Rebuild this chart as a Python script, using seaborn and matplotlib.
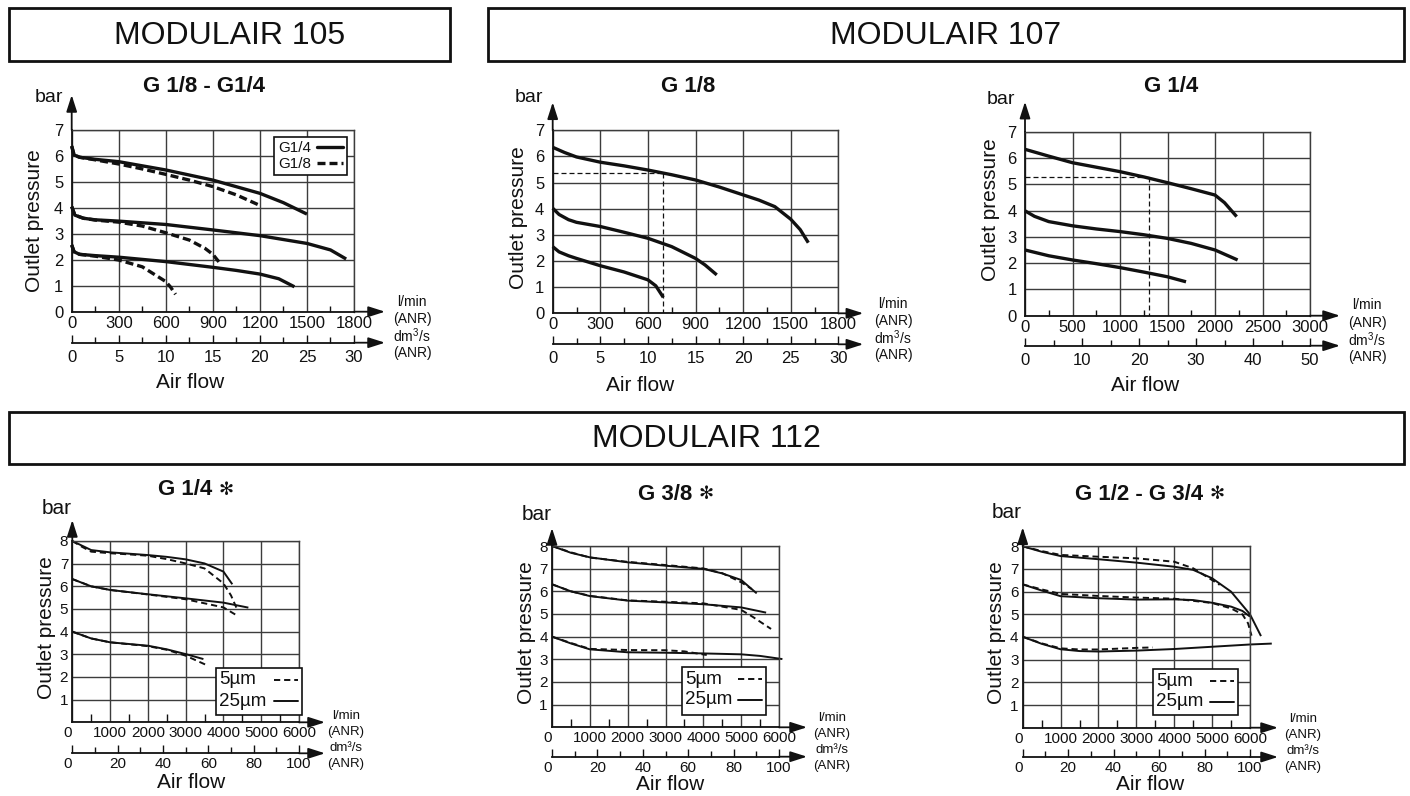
import matplotlib.pyplot as plt
from matplotlib.lines import Line2D
from matplotlib.patches import Rectangle
import numpy as np
import pandas as pd
import seaborn as sns

sns.set_theme(style="white")
plt.rcParams['font.family'] = ['Liberation Sans', 'DejaVu Sans']
plt.rcParams['mathtext.fontset'] = 'custom'
plt.rcParams['mathtext.rm'] = 'Liberation Sans'

# ---- data: flow in l/min, outlet pressure in bar ----
# MODULAIR 105, G 1/8 - G1/4
m105_g14_hi_x = [0, 15, 50, 150, 300, 600, 900, 1200, 1350, 1500]
m105_g14_hi_y = [6.38, 6.04, 5.95, 5.87, 5.78, 5.46, 5.07, 4.56, 4.2, 3.76]
m105_g18_hi_x = [0, 15, 50, 150, 300, 450, 600, 750, 900, 1050, 1205]
m105_g18_hi_y = [6.38, 6.04, 5.95, 5.85, 5.69, 5.5, 5.29, 5.07, 4.82, 4.5, 4.08]
m105_g14_mid_x = [0, 20, 75, 150, 300, 600, 900, 1200, 1500, 1650, 1750]
m105_g14_mid_y = [4.05, 3.72, 3.6, 3.54, 3.49, 3.36, 3.15, 2.93, 2.63, 2.38, 2.03]
m105_g18_mid_x = [0, 20, 75, 150, 300, 450, 600, 750, 850, 900, 949]
m105_g18_mid_y = [4.05, 3.72, 3.6, 3.53, 3.45, 3.3, 3.04, 2.76, 2.44, 2.21, 1.84]
m105_g14_lo_x = [0, 15, 50, 150, 300, 600, 900, 1050, 1200, 1320, 1420]
m105_g14_lo_y = [2.57, 2.31, 2.21, 2.16, 2.1, 1.93, 1.71, 1.59, 1.45, 1.27, 0.96]
m105_g18_lo_x = [0, 15, 50, 150, 300, 450, 600, 630, 662]
m105_g18_lo_y = [2.57, 2.31, 2.21, 2.14, 1.99, 1.73, 1.16, 0.95, 0.67]

# MODULAIR 107, G 1/8
m107a_hi_x = [0, 75, 150, 300, 450, 600, 750, 900, 1050, 1200, 1300, 1400, 1500, 1560, 1611]
m107a_hi_y = [6.35, 6.15, 5.98, 5.78, 5.64, 5.48, 5.3, 5.1, 4.83, 4.53, 4.33, 4.08, 3.6, 3.2, 2.7]
m107a_mid_x = [0, 40, 100, 150, 300, 450, 600, 750, 900, 960, 1034]
m107a_mid_y = [4.02, 3.78, 3.58, 3.48, 3.32, 3.1, 2.87, 2.55, 2.1, 1.85, 1.47]
m107a_lo_x = [0, 40, 100, 150, 300, 450, 600, 650, 697]
m107a_lo_y = [2.55, 2.35, 2.2, 2.1, 1.82, 1.58, 1.28, 1.05, 0.61]
m107a_ref = (697, 5.35)

# MODULAIR 107, G 1/4
m107b_hi_x = [0, 250, 500, 750, 1000, 1250, 1500, 1750, 2000, 2100, 2228]
m107b_hi_y = [6.33, 6.07, 5.82, 5.65, 5.48, 5.28, 5.06, 4.83, 4.59, 4.3, 3.77]
m107b_mid_x = [0, 100, 250, 500, 750, 1000, 1250, 1500, 1750, 2000, 2238]
m107b_mid_y = [3.99, 3.78, 3.58, 3.42, 3.3, 3.2, 3.08, 2.94, 2.75, 2.5, 2.12]
m107b_lo_x = [0, 250, 500, 750, 1000, 1250, 1500, 1695]
m107b_lo_y = [2.5, 2.28, 2.12, 1.98, 1.83, 1.66, 1.48, 1.29]
m107b_ref = (1300, 5.28)

# MODULAIR 112, G 1/4   (25 = 25 µm filter, 5 = 5 µm filter)
m112a_25_hi_x = [0, 250, 500, 1000, 1500, 2000, 2500, 3000, 3500, 4000, 4235]
m112a_25_hi_y = [8.0, 7.8, 7.6, 7.5, 7.44, 7.38, 7.3, 7.19, 7.01, 6.65, 6.09]
m112a_5_hi_x = [0, 250, 500, 1000, 1500, 2000, 2500, 3000, 3500, 4000, 4200, 4350]
m112a_5_hi_y = [8.0, 7.75, 7.53, 7.46, 7.41, 7.35, 7.2, 7.01, 6.79, 6.13, 5.6, 5.03]
m112a_25_mid_x = [0, 500, 1000, 2000, 3000, 4000, 4660]
m112a_25_mid_y = [6.32, 6.0, 5.84, 5.65, 5.47, 5.28, 5.06]
m112a_5_mid_x = [0, 500, 1000, 2000, 3000, 4000, 4330]
m112a_5_mid_y = [6.32, 6.0, 5.84, 5.64, 5.43, 5.07, 4.74]
m112a_25_lo_x = [0, 500, 1000, 2000, 2500, 3000, 3470]
m112a_25_lo_y = [4.0, 3.7, 3.53, 3.38, 3.22, 3.01, 2.79]
m112a_5_lo_x = [0, 500, 1000, 2000, 2500, 3000, 3600]
m112a_5_lo_y = [4.0, 3.7, 3.53, 3.36, 3.2, 2.94, 2.49]

# MODULAIR 112, G 3/8
m112b_25_hi_x = [0, 500, 1000, 2000, 3000, 4000, 4500, 5000, 5410]
m112b_25_hi_y = [8.0, 7.7, 7.5, 7.28, 7.13, 6.99, 6.79, 6.5, 5.91]
m112b_5_hi_x = [0, 500, 1000, 2000, 3000, 4000, 4500, 5000, 5280]
m112b_5_hi_y = [8.0, 7.72, 7.49, 7.3, 7.16, 7.01, 6.8, 6.4, 6.1]
m112b_25_mid_x = [0, 500, 1000, 2000, 3000, 4000, 5000, 5660]
m112b_25_mid_y = [6.31, 6.0, 5.79, 5.59, 5.51, 5.43, 5.29, 5.06]
m112b_5_mid_x = [0, 500, 1000, 2000, 3000, 4000, 5000, 5300, 5790]
m112b_5_mid_y = [6.31, 6.0, 5.8, 5.6, 5.54, 5.47, 5.18, 4.88, 4.34]
m112b_25_lo_x = [0, 500, 1000, 2000, 3000, 4000, 5000, 5500, 6090]
m112b_25_lo_y = [4.0, 3.7, 3.44, 3.31, 3.29, 3.26, 3.22, 3.15, 3.01]
m112b_5_lo_x = [0, 500, 1000, 2000, 3000, 3500, 4090]
m112b_5_lo_y = [4.0, 3.72, 3.46, 3.41, 3.4, 3.35, 3.19]

# MODULAIR 112, G 1/2 - G 3/4
m112c_25_hi_x = [0, 500, 1000, 2000, 3000, 4000, 4500, 5000, 5500, 6000, 6290]
m112c_25_hi_y = [8.0, 7.76, 7.57, 7.43, 7.28, 7.1, 6.96, 6.59, 6.0, 5.0, 4.04]
m112c_5_hi_x = [0, 500, 1000, 2000, 3000, 4000, 4500, 5000, 5200]
m112c_5_hi_y = [8.0, 7.79, 7.62, 7.54, 7.47, 7.32, 7.03, 6.51, 6.3]
m112c_25_mid_x = [0, 500, 1000, 2000, 3000, 4000, 4500, 5000, 5500, 5800, 6000]
m112c_25_mid_y = [6.32, 6.05, 5.8, 5.71, 5.65, 5.66, 5.63, 5.51, 5.34, 5.15, 4.9]
m112c_5_mid_x = [0, 500, 1000, 2000, 3000, 4000, 5000, 5500, 5800, 5950, 6040]
m112c_5_mid_y = [6.32, 6.1, 5.9, 5.81, 5.74, 5.69, 5.5, 5.26, 5.0, 4.6, 4.06]
m112c_25_lo_x = [0, 500, 1000, 1500, 2000, 3000, 4000, 5000, 6000, 6575]
m112c_25_lo_y = [4.01, 3.7, 3.46, 3.38, 3.36, 3.4, 3.47, 3.57, 3.67, 3.71]
m112c_5_lo_x = [0, 500, 1000, 1500, 2000, 3000, 3430]
m112c_5_lo_y = [4.01, 3.72, 3.5, 3.45, 3.45, 3.52, 3.54]

filter_labels = ['5µm', '25µm']
LPM_PER_DM3S = 60  # 1 dm3/s = 60 l/min

# ---- figure ----
W, H = 1410, 796
fig = plt.figure(figsize=(W / 100, H / 100), dpi=100)
INK = '#111111'
GRID = '#3c3c3c'
AP = dict(arrowstyle='-|>,head_length=1.0,head_width=0.32', color=INK, lw=1.3,
          shrinkA=0, shrinkB=0, mutation_scale=10)


def fx(x):
    return x / W


def fy(y):
    return 1 - y / H


def put(x, y, s, **kw):
    kw.setdefault('ha', 'center')
    kw.setdefault('va', 'center')
    fig.text(fx(x), fy(y), s, color=INK, **kw)


def rect(x0, y0, x1, y1, lw, fill=False):
    fig.add_artist(Rectangle((fx(x0), fy(y1)), fx(x1) - fx(x0), fy(y0) - fy(y1),
                             transform=fig.transFigure, fill=fill, fc='white',
                             lw=lw, ec=INK, zorder=5))


def header(x0, y0, x1, y1, label):
    rect(x0, y0, x1, y1, 2.0)
    put((x0 + x1) / 2, (y0 + y1) / 2 + 1, label, fontsize=23)


def frame(*curves):
    parts = [pd.DataFrame({'flow': xs, 'pressure': ys, 'curve': name, 'kind': kind})
             for name, kind, xs, ys in curves]
    return pd.concat(parts, ignore_index=True)


def panel(df, box, xmax, xstep, ymax, sec_major, sec_minor, small, dash, lw,
          sec_off, xarrow, yarrow):
    x0, y0, x1, y1 = box
    w, h = x1 - x0, y1 - y0
    ax = fig.add_axes([fx(x0), fy(y1), w / W, h / H])
    sns.lineplot(data=df, x='flow', y='pressure', units='curve', style='kind',
                 dashes={'solid': '', 'dash': dash}, estimator=None, sort=False,
                 color=INK, linewidth=lw, legend=False, ax=ax)
    for ln in ax.lines:
        ln.set_clip_on(False)
        ln.set_solid_capstyle('butt')
        ln.set_dash_capstyle('butt')
    ax.set_xlim(0, xmax)
    ax.set_ylim(0, ymax)
    ax.set_xlabel('')
    ax.set_ylabel('')
    ax.set_xticks(np.arange(0, xmax + 1, xstep))
    ax.set_xticks(np.arange(xstep / 2, xmax, xstep), minor=True)
    ax.set_yticks(np.arange(0, ymax + 1))
    fs = 11 if small else 12
    if small:
        ax.set_yticklabels([''] + [str(v) for v in range(1, ymax + 1)])
    ax.grid(True, which='major', color=GRID, lw=1.0)
    ax.tick_params(axis='x', which='major', bottom=True, length=0, pad=3,
                   labelsize=fs, labelcolor=INK)
    ax.tick_params(axis='x', which='minor', bottom=True, direction='in',
                   length=6 if small else 4.5, width=1, color=INK)
    ax.tick_params(axis='y', left=True, length=0, pad=3 if small else 6,
                   labelsize=fs, labelcolor=INK)
    for s in ax.spines.values():
        s.set_color(GRID)
        s.set_linewidth(1.0)
    for s in ('left', 'bottom'):
        ax.spines[s].set_color(INK)
        ax.spines[s].set_linewidth(1.3)
    if small:
        ax.get_xticklabels()[0].set_ha('right')

    sec = ax.secondary_xaxis(-sec_off / h, functions=(lambda v: v / LPM_PER_DM3S,
                                                       lambda v: v * LPM_PER_DM3S))
    sec.set_xticks(sec_major)
    sec.set_xticks(sec_minor, minor=True)
    sec.tick_params(which='both', bottom=True, direction='in', color=INK, width=1)
    sec.tick_params(which='major', length=6, pad=3 if small else 5,
                    labelsize=fs, labelcolor=INK)
    sec.tick_params(which='minor', length=4.5)
    sec.spines['bottom'].set_color(INK)
    sec.spines['bottom'].set_linewidth(1.3)
    if small:
        sec.get_xticklabels()[0].set_ha('right')

    for yy in (0, -sec_off / h):
        ax.annotate('', xy=(1 + xarrow / w, yy), xytext=(1, yy), xycoords='axes fraction',
                    arrowprops=AP, annotation_clip=False)
    ax.annotate('', xy=(0, 1 + yarrow / h), xytext=(0, 1), xycoords='axes fraction',
                arrowprops=AP, annotation_clip=False)
    return ax


def box_legend(x0, y0, x1, y1, labels, styles, lw, fs):
    # framed key: text on the left, line sample on the right
    rect(x0, y0, x1, y1, 1.2, fill=True)
    for i, (lab, st) in enumerate(zip(labels, styles)):
        yy = y0 + 12 + i * 21
        fig.text(fx(x0 + 3), fy(yy), lab, color=INK, fontsize=fs, ha='left',
                 va='center', zorder=6)
        fig.add_artist(Line2D([fx(x1 - 28), fx(x1 - 4)], [fy(yy), fy(yy)], color=INK,
                              lw=lw, ls=st, transform=fig.transFigure, zorder=6))


def unit_labels(x, y, step, fs, dm):
    for i, s in enumerate(['l/min', '(ANR)', dm, '(ANR)']):
        put(x, y + i * step, s, fontsize=fs)


# ---- headers ----
header(9, 8, 450, 61, 'MODULAIR 105')
header(488, 8, 1404, 61, 'MODULAIR 107')
header(9, 412, 1404, 464, 'MODULAIR 112')

BIG_DASH = (2.4, 1.2)
SMALL_DASH = (3.2, 2.0)

# ---- MODULAIR 105 ----
df = frame(('a', 'solid', m105_g14_hi_x, m105_g14_hi_y),
           ('b', 'dash', m105_g18_hi_x, m105_g18_hi_y),
           ('c', 'solid', m105_g14_mid_x, m105_g14_mid_y),
           ('d', 'dash', m105_g18_mid_x, m105_g18_mid_y),
           ('e', 'solid', m105_g14_lo_x, m105_g14_lo_y),
           ('f', 'dash', m105_g18_lo_x, m105_g18_lo_y))
ax = panel(df, (71.7, 130, 354, 311.7), 1800, 300, 7, np.arange(0, 31, 5),
           np.arange(0, 30.1, 2.5), False, BIG_DASH, 2.4, 31, 31, 35)
leg = ax.legend([Line2D([], [], color=INK, lw=2.4),
                 Line2D([], [], color=INK, lw=2.4, ls=(0, BIG_DASH))],
                ['G1/4', 'G1/8'], loc='upper right', bbox_to_anchor=(0.975, 0.961),
                markerfirst=False, frameon=True, fancybox=False, framealpha=1,
                edgecolor=INK, fontsize=11, handlelength=1.7, handletextpad=0.4,
                borderpad=0.25, labelspacing=0.15, borderaxespad=0)
leg.get_frame().set_linewidth(1.2)
for t in leg.get_texts():
    t.set_color(INK)
put(204, 86, 'G 1/8 - G1/4', fontsize=16, weight='bold')
put(63, 98, 'bar', fontsize=14, ha='right')
put(35, 221, 'Outlet pressure', fontsize=15, rotation=90)
put(190, 383, 'Air flow', fontsize=15)
unit_labels(412, 302, 17, 10, 'dm$^3$/s')

# ---- MODULAIR 107, G 1/8 ----
df = frame(('a', 'solid', m107a_hi_x, m107a_hi_y),
           ('b', 'solid', m107a_mid_x, m107a_mid_y),
           ('c', 'solid', m107a_lo_x, m107a_lo_y))
ax = panel(df, (552.7, 130.3, 838.3, 313.3), 1800, 300, 7, np.arange(0, 31, 5),
           np.arange(0, 30.1, 2.5), False, BIG_DASH, 2.4, 31, 25, 28)
rx, ry = m107a_ref
ax.plot([0, rx], [ry, ry], color=INK, lw=0.9, ls=(0, (4, 2.4)))
ax.plot([rx, rx], [ry, 0], color=INK, lw=0.9, ls=(0, (4, 2.4)))
put(688, 86, 'G 1/8', fontsize=16, weight='bold')
put(543, 97, 'bar', fontsize=14, ha='right')
put(518, 218, 'Outlet pressure', fontsize=15, rotation=90)
put(640, 385, 'Air flow', fontsize=15)
unit_labels(893, 304, 17, 10, 'dm$^3$/s')

# ---- MODULAIR 107, G 1/4 ----
df = frame(('a', 'solid', m107b_hi_x, m107b_hi_y),
           ('b', 'solid', m107b_mid_x, m107b_mid_y),
           ('c', 'solid', m107b_lo_x, m107b_lo_y))
ax = panel(df, (1025, 131.7, 1310, 315.7), 3000, 500, 7, np.arange(0, 51, 10),
           np.arange(0, 50.1, 5), False, BIG_DASH, 2.4, 30, 30, 30)
rx, ry = m107b_ref
ax.plot([0, rx], [ry, ry], color=INK, lw=0.9, ls=(0, (4, 2.4)))
ax.plot([rx, rx], [ry, 0], color=INK, lw=0.9, ls=(0, (4, 2.4)))
put(1171, 86, 'G 1/4', fontsize=16, weight='bold')
put(1015, 99, 'bar', fontsize=14, ha='right')
put(991, 210, 'Outlet pressure', fontsize=15, rotation=90)
put(1145, 385, 'Air flow', fontsize=15)
unit_labels(1367, 305, 17.5, 10, 'dm$^3$/s')

# ---- MODULAIR 112 panels ----
small_panels = [
    ((m112a_25_hi_x, m112a_25_hi_y, m112a_5_hi_x, m112a_5_hi_y,
      m112a_25_mid_x, m112a_25_mid_y, m112a_5_mid_x, m112a_5_mid_y,
      m112a_25_lo_x, m112a_25_lo_y, m112a_5_lo_x, m112a_5_lo_y),
     (72.3, 541, 299, 722.3), 31, 26, 21, (216, 668, 302, 715),
     'G 1/4', 212, 490, (57, 509), (46, 628), (191, 783), (346, 716)),
    ((m112b_25_hi_x, m112b_25_hi_y, m112b_5_hi_x, m112b_5_hi_y,
      m112b_25_mid_x, m112b_25_mid_y, m112b_5_mid_x, m112b_5_mid_y,
      m112b_25_lo_x, m112b_25_lo_y, m112b_5_lo_x, m112b_5_lo_y),
     (552, 546, 779, 727.3), 29.4, 28, 18, (682, 667, 766, 715),
     'G 3/8', 692, 494, (537, 514), (526, 633), (670, 785), (832, 718)),
    ((m112c_25_hi_x, m112c_25_hi_y, m112c_5_hi_x, m112c_5_hi_y,
      m112c_25_mid_x, m112c_25_mid_y, m112c_5_mid_x, m112c_5_mid_y,
      m112c_25_lo_x, m112c_25_lo_y, m112c_5_lo_x, m112c_5_lo_y),
     (1022.7, 546.3, 1250, 727.7), 29.3, 28, 19, (1153, 669, 1238, 715),
     'G 1/2 - G 3/4', 1203, 494, (1007, 513), (996, 633), (1150, 785), (1303, 719)),
]

for (series, box, off, xa, ya, legbox, title, tx, ty, barpos, outpos, flowpos,
     unitpos) in small_panels:
    (h25x, h25y, h5x, h5y, m25x, m25y, m5x, m5y, l25x, l25y, l5x, l5y) = series
    df = frame(('a', 'solid', h25x, h25y), ('b', 'dash', h5x, h5y),
               ('c', 'solid', m25x, m25y), ('d', 'dash', m5x, m5y),
               ('e', 'solid', l25x, l25y), ('f', 'dash', l5x, l5y))
    ax = panel(df, box, 6000, 1000, 8, np.arange(0, 101, 20), np.arange(0, 100.1, 10),
               True, SMALL_DASH, 1.4, off, xa, ya)
    box_legend(*legbox, filter_labels, [(0, SMALL_DASH), '-'], 1.4, 13.5)
    put(tx, ty, title, fontsize=16, weight='bold', ha='right')
    put(tx + 7, ty, '✻', fontsize=13, ha='left', family=['DejaVu Sans'])
    put(barpos[0] + 15, barpos[1], 'bar', fontsize=15, ha='right')
    put(outpos[0], outpos[1], 'Outlet pressure', fontsize=15, rotation=90)
    put(flowpos[0], flowpos[1], 'Air flow', fontsize=15)
    unit_labels(unitpos[0], unitpos[1], 16, 9.5, 'dm³/s')

fig.savefig('out.png', dpi=100)
